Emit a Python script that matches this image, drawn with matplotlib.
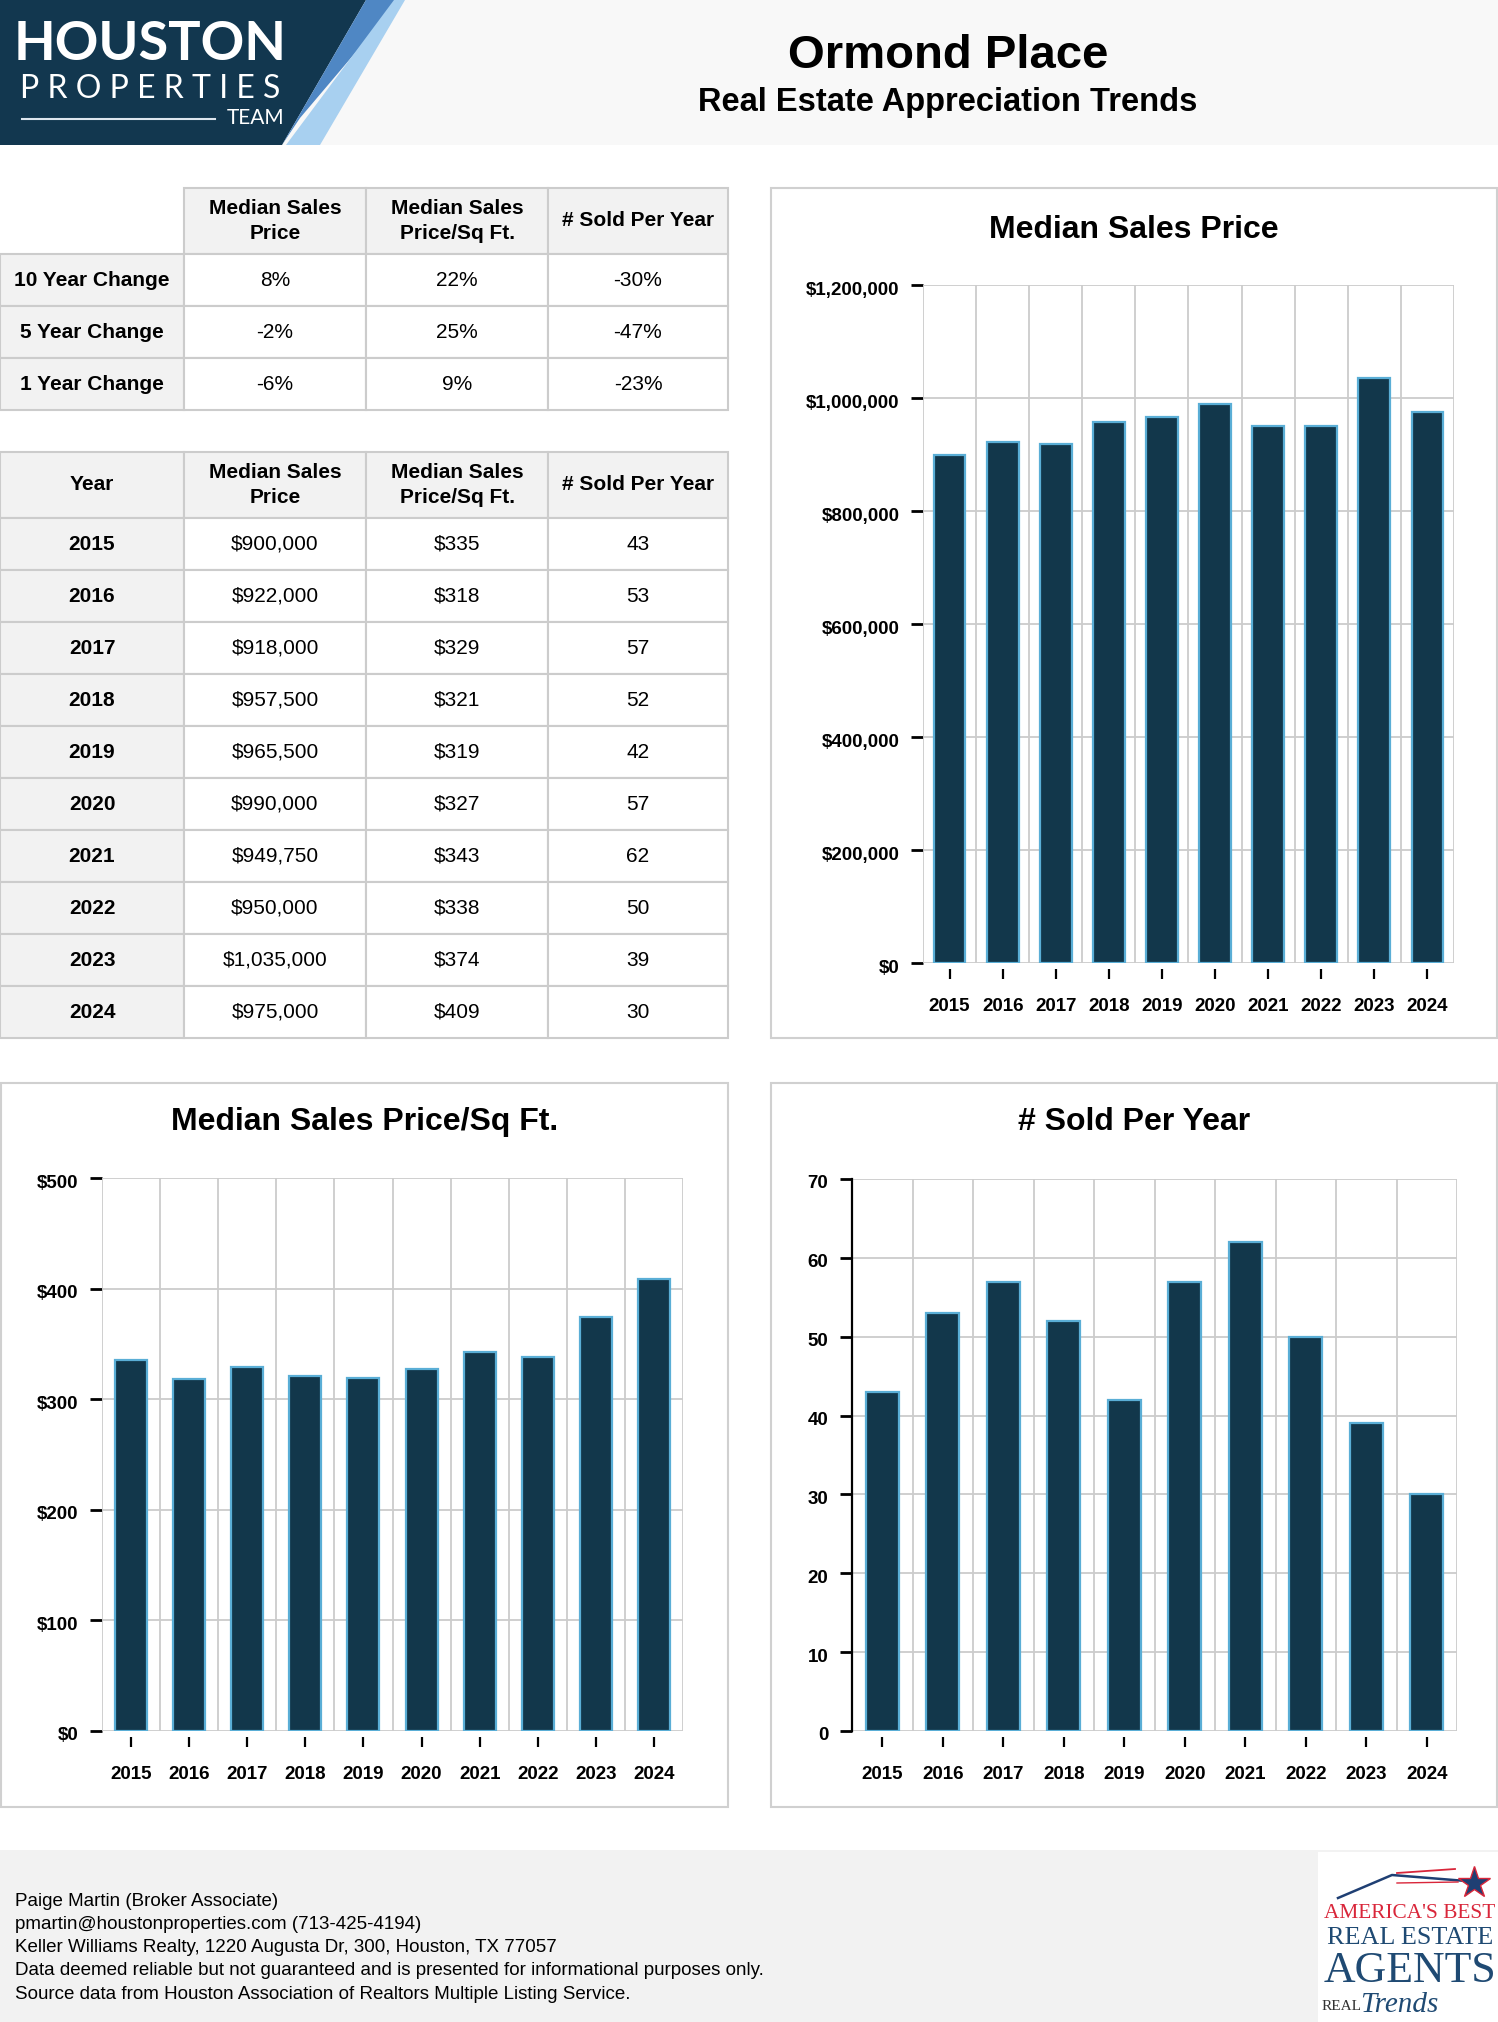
import numpy as np
import matplotlib
matplotlib.use('Agg')
import matplotlib.pyplot as plt
import matplotlib.transforms as mtransforms
from matplotlib.patches import Rectangle, Polygon
from matplotlib.ticker import FuncFormatter

# data
years = [2015, 2016, 2017, 2018, 2019, 2020, 2021, 2022, 2023, 2024]
median_price = [900000, 922000, 918000, 957500, 965500, 990000, 949750, 950000, 1035000, 975000]
price_sqft = [335, 318, 329, 321, 319, 327, 343, 338, 374, 409]
sold_per_year = [43, 53, 57, 52, 42, 57, 62, 50, 39, 30]

change_labels = ['10 Year Change', '5 Year Change', '1 Year Change']
price_change = ['8%', '-2%', '-6%']
sqft_change = ['22%', '25%', '9%']
sold_change = ['-30%', '-47%', '-23%']
col_headers = ['Median Sales\nPrice', 'Median Sales\nPrice/Sq Ft.', '# Sold Per Year']

footer_lines = [
    'Paige Martin (Broker Associate)',
    'pmartin@houstonproperties.com (713-425-4194)',
    'Keller Williams Realty, 1220 Augusta Dr, 300, Houston, TX 77057',
    'Data deemed reliable but not guaranteed and is presented for informational purposes only.',
    'Source data from Houston Association of Realtors Multiple Listing Service.',
]

plt.rcParams['font.family'] = ['Liberation Sans', 'DejaVu Sans']

W, H = 1498, 2022
NAVY = '#12374b'
EDGE = '#5aaed6'
GRID = '#cccccc'

fig = plt.figure(figsize=(W / 100, H / 100), dpi=100)
bg = fig.add_axes([0, 0, 1, 1])
bg.set_xlim(0, W)
bg.set_ylim(H, 0)
bg.axis('off')

# header
bg.add_patch(Rectangle((0, 0), W, 145, color='#f8f8f8', lw=0))
bg.add_patch(Polygon([(0, 0), (366, 0), (282, 145), (0, 145)], color='#12374f', lw=0))
bg.add_patch(Polygon([(366, 0), (400, 0), (300, 118), (282, 145)], color='#4f87c4', lw=0))
bg.add_patch(Polygon([(394, 0), (405, 0), (320, 145), (286, 145)], color='#a8d0f0', lw=0))
bg.text(150, 44, 'HOUSTON', color='white', fontsize=39, fontweight='bold',
        family='Lato', ha='center', va='center')
bg.text(150, 89, 'P R O P E R T I E S', color='white', fontsize=23,
        family='Lato', ha='center', va='center')
bg.plot([22, 215], [119, 119], color='#dde6ee', lw=1.5)
bg.text(284, 118, 'TEAM', color='white', fontsize=15, family='Lato',
        ha='right', va='center')
bg.text(948, 56, 'Ormond Place', fontsize=34, fontweight='bold',
        ha='center', va='center')
bg.text(948, 103, 'Real Estate Appreciation Trends', fontsize=23.5, fontweight='bold',
        ha='center', va='center')


def cell(x0, x1, y0, y1, text, fill='white', bold=False):
    bg.add_patch(Rectangle((x0, y0), x1 - x0, y1 - y0, facecolor=fill,
                           edgecolor=GRID, lw=1.5))
    bg.text((x0 + x1) / 2, (y0 + y1) / 2, text, ha='center', va='center',
            fontsize=15, fontweight='bold' if bold else 'normal',
            linespacing=1.45)


# change table
cols = [0, 184, 366, 548, 728]
rows1 = [188, 254, 306, 358, 410]
for j, h in enumerate(col_headers):
    cell(cols[j + 1], cols[j + 2], rows1[0], rows1[1], h, '#f2f2f2', True)
for i, lab in enumerate(change_labels):
    y0, y1 = rows1[i + 1], rows1[i + 2]
    cell(cols[0], cols[1], y0, y1, lab, '#f2f2f2', True)
    for j, v in enumerate([price_change[i], sqft_change[i], sold_change[i]]):
        cell(cols[j + 1], cols[j + 2], y0, y1, v)

# yearly table
rows2 = [452, 518] + list(518 + 52 * np.arange(1, 11))
cell(cols[0], cols[1], rows2[0], rows2[1], 'Year', '#f2f2f2', True)
for j, h in enumerate(col_headers):
    cell(cols[j + 1], cols[j + 2], rows2[0], rows2[1], h, '#f2f2f2', True)
for i, yr in enumerate(years):
    y0, y1 = rows2[i + 1], rows2[i + 2]
    cell(cols[0], cols[1], y0, y1, str(yr), '#f2f2f2', True)
    cell(cols[1], cols[2], y0, y1, f'${median_price[i]:,.0f}')
    cell(cols[2], cols[3], y0, y1, f'${price_sqft[i]}')
    cell(cols[3], cols[4], y0, y1, str(sold_per_year[i]))


def panel(x0, y0, x1, y1, title, ty):
    bg.add_patch(Rectangle((x0, y0), x1 - x0, y1 - y0, facecolor='white',
                           edgecolor='#d0d0d0', lw=1.5))
    bg.text((x0 + x1) / 2, ty, title, ha='center', va='center',
            fontsize=23, fontweight='bold')


def bar_chart(rect, vals, ymax, step, fmt, width, black_spine=False):
    x0, y0, x1, y1 = rect
    ax = fig.add_axes([x0 / W, 1 - y1 / H, (x1 - x0) / W, (y1 - y0) / H])
    ax.set_facecolor('none')
    x = np.arange(len(years))
    ax.bar(x, vals, width=width, color=NAVY, edgecolor=EDGE, linewidth=1.6, zorder=3)
    ax.set_xlim(-0.5, len(years) - 0.5)
    ax.set_ylim(0, ymax)
    ax.set_yticks(np.arange(0, ymax + step, step))
    ax.yaxis.set_major_formatter(FuncFormatter(fmt))
    for b in np.arange(-0.5, len(years), 1.0):
        ax.axvline(b, color=GRID, lw=1.3, zorder=1)
    ax.yaxis.grid(True, color=GRID, lw=1.3, zorder=1)
    ax.set_axisbelow(True)
    for s in ax.spines.values():
        s.set_visible(False)
    ax.spines['bottom'].set_position(('outward', 4))
    if black_spine:
        ax.spines['left'].set_visible(True)
        ax.spines['left'].set_linewidth(1.6)
        ax.spines['left'].set_zorder(4)
    ax.set_xticks(x)
    ax.set_xticklabels([str(y) for y in years])
    ax.tick_params(axis='y', length=9, width=2, pad=8, labelsize=13.5)
    ax.tick_params(axis='x', length=7, width=1.6, pad=14, labelsize=13.5)
    shift = mtransforms.ScaledTranslation(0, -3 / 100, fig.dpi_scale_trans)
    for t in ax.get_yticklabels():
        t.set_transform(t.get_transform() + shift)
    for t in ax.get_xticklabels() + ax.get_yticklabels():
        t.set_fontweight('bold')
    return ax


panel(771, 188, 1497, 1038, 'Median Sales Price', 230)
bar_chart((923, 285, 1454, 963), median_price, 1200000, 200000,
          lambda v, p: f'${v:,.0f}', 0.6)

panel(1, 1083, 728, 1807, 'Median Sales Price/Sq Ft.', 1122)
bar_chart((102, 1178, 683, 1731), price_sqft, 500, 100,
          lambda v, p: f'${v:,.0f}', 0.55)

panel(771, 1083, 1497, 1807, '# Sold Per Year', 1122)
bar_chart((852, 1179, 1457, 1731), sold_per_year, 70, 10,
          lambda v, p: f'{v:.0f}', 0.55, black_spine=True)

# footer
bg.add_patch(Rectangle((0, 1850), W, H - 1850, color='#f2f2f2', lw=0))
for k, line in enumerate(footer_lines):
    bg.text(15, 1901 + 23.3 * k, line, fontsize=13.5, ha='left', va='center')

# footer badge
bg.add_patch(Rectangle((1318, 1852), W - 1318, H - 1852, color='white', lw=0))
serif = ['Liberation Serif', 'DejaVu Serif']
bg.plot([1338, 1392, 1466], [1898, 1875, 1881], color='#1f3f73', lw=1.8)
bg.plot([1397, 1455], [1873, 1869], color='#d9263a', lw=1.3)
bg.plot([1397, 1458], [1883, 1882], color='#d9263a', lw=1.0)
bg.plot([1474], [1883], marker='*', markersize=24, color='#1f3f73',
        markeredgecolor='#d9263a', markeredgewidth=1)
bg.text(1410, 1913, "AMERICA'S BEST", color='#d9263a', fontsize=15.3,
        family=serif, ha='center', va='center')
bg.text(1410, 1938, 'REAL ESTATE', color='#1f4a73', fontsize=18.8,
        family=serif, ha='center', va='center')
bg.text(1410, 1971, 'AGENTS', color='#1f4a73', fontsize=31.5,
        family=serif, ha='center', va='center')
bg.text(1322, 2007, 'REAL', color='#333333', fontsize=11, family=serif,
        ha='left', va='center')
bg.text(1360, 2005, 'Trends', color='#1f4a73', fontsize=21, family=serif,
        style='italic', ha='left', va='center')

fig.savefig('out.png', dpi=100)
